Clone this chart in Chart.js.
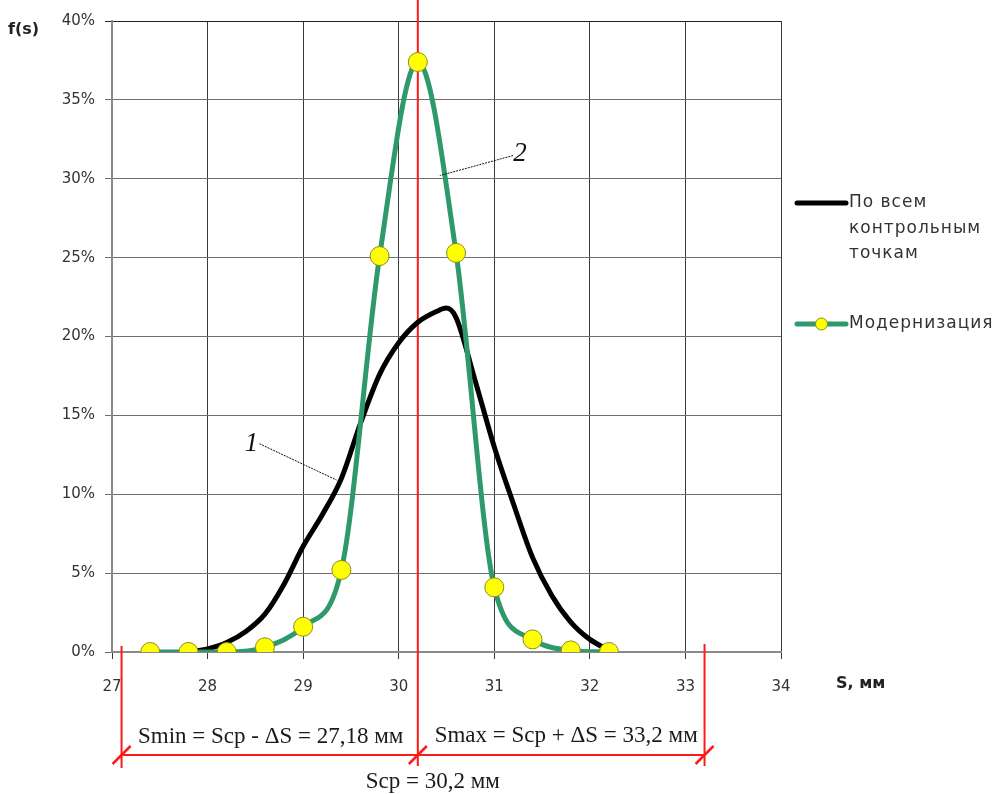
<!DOCTYPE html>
<html>
<head>
<meta charset="utf-8">
<script src="https://cdn.jsdelivr.net/npm/chart.js@4.4.1/dist/chart.umd.min.js"></script>
<style>
  html, body { margin: 0; padding: 0; background: #fff; }
  #wrap { width: 996px; height: 794px; position: relative; }
</style>
</head>
<body>
<div id="wrap"><canvas id="chart"></canvas></div>
<script>
// данные (S в мм, f(s) в %)
const sAll = [27.8, 28.0, 28.2, 28.4, 28.6, 28.8, 29.0, 29.2, 29.4, 29.6, 29.8, 30.0, 30.2, 30.4, 30.5, 30.6, 30.8, 31.0, 31.2, 31.4, 31.6, 31.8, 32.0, 32.2];
const fAll = [0, 0.2, 0.6, 1.3, 2.4, 4.3, 6.7, 8.7, 11.0, 14.5, 17.6, 19.6, 20.9, 21.6, 21.8, 21.2, 17.2, 13.0, 9.4, 6.0, 3.6, 1.9, 0.8, 0.1];

const sMod = [27.4, 27.8, 28.2, 28.6, 29.0, 29.4, 29.8, 30.2, 30.6, 31.0, 31.4, 31.8, 32.2];
const fMod = [0, 0, 0, 0.3, 1.6, 5.2, 25.1, 37.4, 25.3, 4.1, 0.8, 0.1, 0];

const xTicks = [27, 28, 29, 30, 31, 32, 33, 34];
const yTicks = [0, 5, 10, 15, 20, 25, 30, 35, 40];

const seriesNames = [["По всем", "контрольным", "точкам"], ["Модернизация"]];

// границы поля допуска
const sMean = 30.2;
const sMinMark = 27.1;
const sMaxMark = 33.2;
const sMinText = "Smin = Scp - ΔS = 27,18 мм";
const sMaxText = "Smax = Scp + ΔS = 33,2 мм";
const sMeanText = "Scp = 30,2 мм";

// выноски "1" и "2": [x подписи, y подписи, x точки, y точки]
const callout1 = [28.46, 13.2, 29.35, 10.9];
const callout2 = [31.27, 31.6, 30.43, 30.2];

const toXY = (xs, ys) => xs.map((x, i) => ({ x: x, y: ys[i] }));

// аннотации и легенда
const extras = {
  id: 'extras',
  beforeDatasetsDraw(chart) {
    const { ctx, scales: { x, y } } = chart;
    ctx.save();
    ctx.strokeStyle = '#ff1a1a';
    ctx.lineWidth = 2;
    const xm = x.getPixelForValue(sMean);
    ctx.beginPath();
    ctx.moveTo(xm, 0);
    ctx.lineTo(xm, y.bottom + 114);
    ctx.stroke();
    ctx.restore();
  },
  afterDraw(chart) {
    const { ctx, chartArea: ca, scales: { x, y } } = chart;
    ctx.save();

    // красные размерные линии
    const x1 = x.getPixelForValue(sMinMark);
    const xm = x.getPixelForValue(sMean);
    const x2 = x.getPixelForValue(sMaxMark);
    const yl = y.bottom + 103;
    ctx.strokeStyle = '#ff1a1a';
    ctx.lineWidth = 2;
    ctx.beginPath();
    ctx.moveTo(x1, y.bottom - 6); ctx.lineTo(x1, y.bottom + 116);
    ctx.moveTo(x2, y.bottom - 8); ctx.lineTo(x2, y.bottom + 114);
    ctx.moveTo(x1, yl); ctx.lineTo(x2, yl);
    ctx.stroke();
    ctx.lineWidth = 2.5;
    [x1, xm, x2].forEach(px => {
      ctx.beginPath();
      ctx.moveTo(px - 9, yl + 9);
      ctx.lineTo(px + 9, yl - 9);
      ctx.stroke();
    });

    ctx.fillStyle = '#1a1a1a';
    ctx.font = '23px "Liberation Serif", "Times New Roman", serif';
    ctx.textBaseline = 'middle';
    ctx.textAlign = 'center';
    ctx.fillText(sMinText, (x1 + xm) / 2 + 1, yl - 18);
    ctx.fillText(sMaxText, (xm + x2) / 2 + 5, yl - 19);
    ctx.fillText(sMeanText, xm + 15, yl + 27);

    // выноски
    ctx.font = 'italic 27px "Liberation Serif", "Times New Roman", serif';
    [[callout1, '1'], [callout2, '2']].forEach(([c, t]) => {
      const lx = x.getPixelForValue(c[0]), ly = y.getPixelForValue(c[1]);
      const px = x.getPixelForValue(c[2]), py = y.getPixelForValue(c[3]);
      ctx.fillStyle = '#111';
      ctx.fillText(t, lx, ly);
      ctx.strokeStyle = '#111';
      ctx.lineWidth = 1;
      ctx.setLineDash([2, 1]);
      ctx.beginPath();
      ctx.moveTo(lx + (t === '1' ? 8 : -7), ly + (t === '1' ? 0 : 2));
      ctx.lineTo(px, py);
      ctx.stroke();
      ctx.setLineDash([]);
    });

    // подписи осей
    ctx.fillStyle = '#222';
    ctx.font = 'bold 16px "DejaVu Sans", Verdana, sans-serif';
    ctx.textAlign = 'left';
    ctx.fillText('f(s)', 8, 30);
    ctx.fillText('S, мм', 836, 684);

    // легенда
    const lx0 = ca.right + 16;
    const lx1 = ca.right + 65;
    const ds = chart.data.datasets;
    ctx.font = '17px "DejaVu Sans", Verdana, sans-serif';
    ctx.letterSpacing = '1px';
    ctx.fillStyle = '#333';
    // серия 1
    ctx.strokeStyle = ds[0].borderColor;
    ctx.lineWidth = 5;
    ctx.lineCap = 'round';
    ctx.beginPath(); ctx.moveTo(lx0, 203); ctx.lineTo(lx1, 203); ctx.stroke();
    seriesNames[0].forEach((s, i) => ctx.fillText(s, lx1 + 3, 203 + i * 25.5));
    // серия 2
    ctx.strokeStyle = ds[1].borderColor;
    ctx.beginPath(); ctx.moveTo(lx0, 324); ctx.lineTo(lx1, 324); ctx.stroke();
    ctx.fillStyle = ds[1].pointBackgroundColor;
    ctx.strokeStyle = ds[1].pointBorderColor;
    ctx.lineWidth = 1;
    ctx.beginPath(); ctx.arc((lx0 + lx1) / 2, 324, 6, 0, Math.PI * 2); ctx.fill(); ctx.stroke();
    ctx.fillStyle = '#333';
    ctx.fillText(seriesNames[1][0], lx1 + 3, 324);

    ctx.restore();
  }
};

new Chart(document.getElementById('chart'), {
  type: 'line',
  data: {
    datasets: [
      {
        label: seriesNames[0].join(' '),
        data: toXY(sAll, fAll),
        borderColor: '#000000',
        borderWidth: 5,
        pointRadius: 0,
        cubicInterpolationMode: 'monotone',
        order: 1
      },
      {
        label: seriesNames[1][0],
        data: toXY(sMod, fMod),
        borderColor: '#2e9a6c',
        borderWidth: 5,
        pointRadius: 9.5,
        pointBackgroundColor: '#ffff00',
        pointBorderColor: '#8c8c1e',
        pointBorderWidth: 1,
        cubicInterpolationMode: 'monotone',
        order: 0
      }
    ]
  },
  options: {
    responsive: true,
    maintainAspectRatio: false,
    animation: false,
    layout: { padding: { left: 0, right: 215, top: 21, bottom: 0 } },
    plugins: {
      legend: { display: false },
      tooltip: { enabled: false }
    },
    scales: {
      x: {
        type: 'linear',
        min: xTicks[0],
        max: xTicks[xTicks.length - 1],
        afterBuildTicks: s => { s.ticks = xTicks.map(v => ({ value: v })); },
        afterFit: s => { s.height = 142; },
        grid: { color: '#3a3a3a', lineWidth: 1, tickLength: 7 },
        border: { color: '#8a8a8a', width: 2 },
        ticks: {
          padding: 19,
          color: '#333',
          font: { family: '"DejaVu Sans", Verdana, sans-serif', size: 15 }
        }
      },
      y: {
        min: yTicks[0],
        max: yTicks[yTicks.length - 1],
        afterBuildTicks: s => { s.ticks = yTicks.map(v => ({ value: v })); },
        afterFit: s => { s.width = 112; },
        grid: {
          color: ctx => ctx.tick && ctx.tick.value === 40 ? '#222' : '#6e6e6e',
          lineWidth: 1,
          tickLength: 7
        },
        border: { color: '#8a8a8a', width: 2 },
        ticks: {
          padding: 10,
          color: '#333',
          font: { family: '"DejaVu Sans", Verdana, sans-serif', size: 15 },
          callback: v => v + '%'
        }
      }
    }
  },
  plugins: [extras]
});
</script>
</body>
</html>
